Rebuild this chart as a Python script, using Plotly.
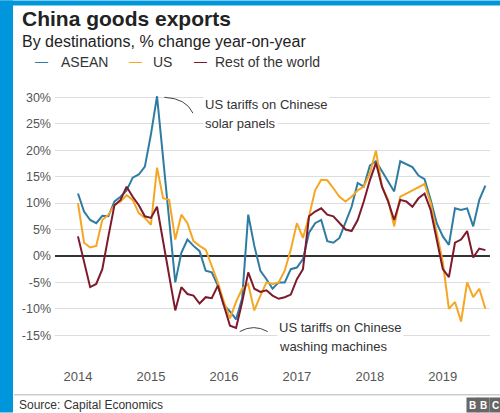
import plotly.graph_objects as go

# Monthly data, Jan 2014 .. Aug 2019 (% change y/y)
months = list(range(68))
asean = [11.8, 8.4, 6.8, 6.2, 7.6, 7.5, 10.3, 11.2, 12.4, 14.8, 15.4, 16.9,
         23.0, 30.2, 18.5, 6.8, -5.0, 0.6, 3.1, 1.9, 0.9, -2.8, -3.1, -5.6,
         -9.3, -10.5, -12.0, -8.0, 7.8, 1.9, -2.8, -4.4, -6.2, -5.0, -5.0, -2.5,
         -2.2, -0.6, 4.4, 6.2, 6.8, 2.8, 2.5, 3.4, 6.2, 9.3, 13.8, 13.1,
         17.1, 17.9, 16.0, 14.2, 12.2, 17.9, 17.4, 16.8, 15.2, 14.5, 10.6, 6.2,
         3.7, 2.1, 9.0, 8.7, 9.0, 5.6, 10.6, 13.3]
us = [10.0, 2.5, 1.6, 1.9, 6.8, 7.8, 9.6, 10.3, 11.5, 10.6, 8.1, 7.2,
      5.9, 16.7, 10.9, 10.6, 3.1, 7.8, 6.2, 2.8, 1.9, 1.2, -1.9, -5.0,
      -8.7, -11.8, -8.7, -6.2, -5.3, -10.3, -7.5, -5.0, -5.3, -5.0, -2.8, 1.2,
      6.2, 3.4, 7.5, 12.4, 14.4, 14.3, 12.8, 11.2, 10.3, 11.2, 12.4, 13.1,
      15.6, 19.9, 13.1, 10.6, 5.6, 11.2, 11.8, 12.4, 13.1, 13.6, 10.0, 4.4,
      -1.2, -10.0, -8.7, -12.4, -5.0, -7.8, -6.2, -10.0]
rest = [3.7, -1.2, -5.9, -5.3, -2.5, 3.7, 9.6, 10.6, 13.1, 11.2, 9.6, 7.5,
        7.2, 9.3, 2.8, -3.8, -10.3, -5.9, -7.2, -7.5, -9.0, -7.8, -8.0, -5.6,
        -9.3, -13.2, -13.6, -8.7, -3.1, -6.2, -6.8, -6.5, -7.5, -8.1, -7.8, -7.3,
        -4.4, -2.5, 7.5, 8.4, 9.0, 7.8, 7.5, 6.2, 5.0, 4.7, 6.8, 10.3,
        14.3, 17.6, 13.1, 10.3, 6.8, 10.6, 10.3, 9.3, 10.9, 11.8, 8.7, 3.1,
        -2.5, -4.0, 2.5, 3.1, 4.7, -0.3, 1.4, 1.1]

series_names = ["ASEAN", "US", "Rest of the world"]
series_colors = ["#2f7ca3", "#f5a623", "#7d1a2c"]
year_ticks = [0, 12, 24, 36, 48, 60]
year_labels = ["2014", "2015", "2016", "2017", "2018", "2019"]
y_ticks = [-15, -10, -5, 0, 5, 10, 15, 20, 25, 30]
y_labels = [f"{v}%" for v in y_ticks]

FONT = "Liberation Sans, Arial, sans-serif"
W, H = 500, 413
L, R = 55, 490          # plot area left/right in px
T, B = 91.7, 367.3      # plot area top/bottom in px


def px(x):
    return (x - L) / (R - L)


def py(y):
    return (B - y) / (B - T)


fig = go.Figure()
for name, vals, col in zip(series_names, [asean, us, rest], series_colors):
    fig.add_trace(go.Scatter(x=months, y=vals, mode="lines", name=name,
                             line=dict(color=col, width=2), showlegend=False))

fig.update_layout(
    width=W, height=H,
    margin=dict(l=L, r=W - R, t=T, b=H - B, pad=0),
    paper_bgcolor="white", plot_bgcolor="white",
    font=dict(family=FONT, color="#555555"),
    xaxis=dict(range=[-3.78, 67.76], tickvals=year_ticks, ticktext=year_labels,
               showgrid=False, zeroline=False, showline=False, ticks="",
               tickfont=dict(size=13, color="#555555")),
    yaxis=dict(range=[-21, 31], tickvals=y_ticks, ticktext=y_labels,
               showgrid=True, gridcolor="#dddddd", gridwidth=1,
               zeroline=True, zerolinecolor="#333333", zerolinewidth=1.5,
               showline=False, ticks="", ticklabelstandoff=3,
               tickfont=dict(size=12.5, color="#555555")),
)

annotations = []
# Title / subtitle
annotations.append(dict(text="<b>China goods exports</b>", x=px(20), y=py(18),
                        xref="paper", yref="paper", xanchor="left", yanchor="middle",
                        showarrow=False, font=dict(size=21, color="#222222", family=FONT)))
annotations.append(dict(text="By destinations, % change year-on-year", x=px(20), y=py(41),
                        xref="paper", yref="paper", xanchor="left", yanchor="middle",
                        showarrow=False, font=dict(size=16, color="#222222", family=FONT)))
# Legend
leg_dash_x = [33, 127, 192]
leg_text_x = [59, 151, 213]
for name, col, dx, tx in zip(series_names, series_colors, leg_dash_x, leg_text_x):
    annotations.append(dict(text="—", x=px(dx), y=py(61), xref="paper", yref="paper",
                            xanchor="left", yanchor="middle", showarrow=False,
                            font=dict(size=13, color=col, family=FONT)))
    annotations.append(dict(text=name, x=px(tx), y=py(62), xref="paper", yref="paper",
                            xanchor="left", yanchor="middle", showarrow=False,
                            font=dict(size=14, color="#333333", family=FONT)))
# Event labels
ann_font = dict(size=13, color="#333333", family=FONT)
for txt, y in [("US tariffs on Chinese", 104), ("solar panels", 123)]:
    annotations.append(dict(text=txt, x=px(203), y=py(y), xref="paper", yref="paper",
                            xanchor="left", yanchor="middle", showarrow=False,
                            font=ann_font, bgcolor="white"))
for txt, y in [("US tariffs on Chinese", 328), ("washing machines", 347)]:
    annotations.append(dict(text=txt, x=px(277), y=py(y), xref="paper", yref="paper",
                            xanchor="left", yanchor="middle", showarrow=False,
                            font=ann_font, bgcolor="white"))
# Footer
annotations.append(dict(text="Source: Capital Economics", x=px(17), y=py(405),
                        xref="paper", yref="paper", xanchor="left", yanchor="middle",
                        showarrow=False, font=dict(size=12, color="#333333", family=FONT)))
for i, letter in enumerate("BBC"):
    annotations.append(dict(text=f"<b>{letter}</b>", x=px(472 + i * 11.5), y=py(405),
                            xref="paper", yref="paper", xanchor="center", yanchor="middle",
                            showarrow=False, bgcolor="#666666", width=9, height=12,
                            font=dict(size=10, color="white", family=FONT)))
fig.update_layout(annotations=annotations)

shapes = []
# Annotation connectors (curved)
shapes.append(dict(type="path", xref="x", yref="y",
                   path="M 14.2,30.0 Q 17.8,29.8 18.9,27.0",
                   line=dict(color="#444444", width=1)))
shapes.append(dict(type="path", xref="x", yref="y",
                   path="M 26.6,-14.3 Q 28.9,-12.8 31.2,-14.3",
                   line=dict(color="#444444", width=1)))
# Footer separator
shapes.append(dict(type="line", xref="paper", yref="paper", x0=px(14), x1=px(500),
                   y0=py(395), y1=py(395), line=dict(color="#cccccc", width=1.5)))
# Blue frame
shapes.append(dict(type="rect", xref="paper", yref="paper", x0=px(0), x1=px(13),
                   y0=py(413), y1=py(0), fillcolor="#0096db", line=dict(width=0), layer="above"))
shapes.append(dict(type="rect", xref="paper", yref="paper", x0=px(0), x1=px(500),
                   y0=py(5), y1=py(0), fillcolor="#0096db", line=dict(width=0), layer="above"))
fig.update_layout(shapes=shapes)

fig.write_html("out.html", include_plotlyjs=True, config={"displayModeBar": False})
